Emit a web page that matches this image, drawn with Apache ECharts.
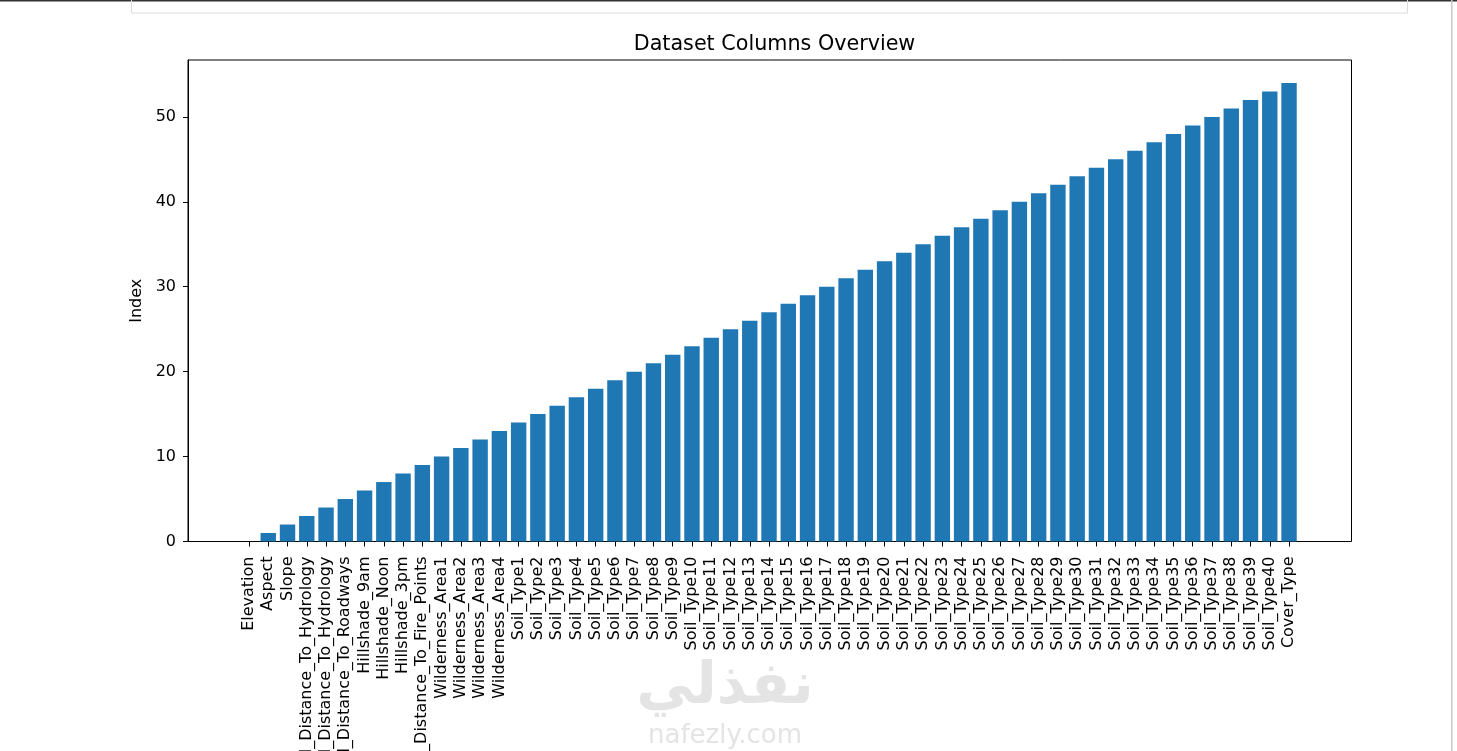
<!DOCTYPE html>
<html>
<head>
<meta charset="utf-8">
<script src="https://cdn.jsdelivr.net/npm/echarts@6/dist/echarts.min.js"></script>
<style>
html,body{margin:0;padding:0;background:#fff;}
#chart{width:1457px;height:751px;}
</style>
</head>
<body>
<div id="chart"></div>
<script>
const columns = [
  "Elevation","Aspect","Slope","Horizontal_Distance_To_Hydrology","Vertical_Distance_To_Hydrology",
  "Horizontal_Distance_To_Roadways","Hillshade_9am","Hillshade_Noon","Hillshade_3pm",
  "Horizontal_Distance_To_Fire_Points","Wilderness_Area1","Wilderness_Area2","Wilderness_Area3",
  "Wilderness_Area4","Soil_Type1","Soil_Type2","Soil_Type3","Soil_Type4","Soil_Type5","Soil_Type6",
  "Soil_Type7","Soil_Type8","Soil_Type9","Soil_Type10","Soil_Type11","Soil_Type12","Soil_Type13",
  "Soil_Type14","Soil_Type15","Soil_Type16","Soil_Type17","Soil_Type18","Soil_Type19","Soil_Type20",
  "Soil_Type21","Soil_Type22","Soil_Type23","Soil_Type24","Soil_Type25","Soil_Type26","Soil_Type27",
  "Soil_Type28","Soil_Type29","Soil_Type30","Soil_Type31","Soil_Type32","Soil_Type33","Soil_Type34",
  "Soil_Type35","Soil_Type36","Soil_Type37","Soil_Type38","Soil_Type39","Soil_Type40","Cover_Type"
];
const indexValues = [
  0,1,2,3,4,5,6,7,8,9,10,11,12,13,14,15,16,17,18,19,20,21,22,23,24,25,26,27,
  28,29,30,31,32,33,34,35,36,37,38,39,40,41,42,43,44,45,46,47,48,49,50,51,52,53,54
];
const yTicks = [0,10,20,30,40,50];
const titleText = "Dataset Columns Overview";
const yName = "Index";

const FONT = "DejaVu Sans";
const chart = echarts.init(document.getElementById('chart'), null, {renderer:'canvas'});
const frame = {left:188, top:60, width:1163.5, height:481.5};
const band = 19.26;
const inner = {left: 249 - band/2, top: frame.top, width: band*columns.length, height: frame.height};

chart.setOption({
  animation:false,
  backgroundColor:'#fff',
  title:{
    text:titleText, left:769.5, top:29, textAlign:'center',
    textStyle:{fontFamily:FONT, fontSize:20.7, fontWeight:'normal', color:'#000'}
  },
  graphic:[
    {type:'rect', shape:{x:0,y:0,width:1457,height:1.5}, style:{fill:'#333'}, z:100},
    {type:'rect', shape:{x:131.5,y:-2,width:1276,height:15}, style:{fill:'none', stroke:'#dcdcdc', lineWidth:1}, z:100},
    {type:'rect', shape:{x:1451,y:0,width:1.5,height:751}, style:{fill:'#c8c8c8'}, z:100},
    {type:'text', x:725, y:688, style:{text:'نفذلي', font:'bold 58px "DejaVu Sans"', fill:'#e4e4e4', textAlign:'center', textVerticalAlign:'middle'}, z:0},
    {type:'text', x:725, y:736, style:{text:'nafezly.com', font:'26px "DejaVu Sans"', fill:'#e4e4e4', textAlign:'center', textVerticalAlign:'middle'}, z:0}
  ],
  grid:[
    {left:frame.left, top:frame.top, width:frame.width, height:frame.height, show:true, borderColor:'#000', borderWidth:1, backgroundColor:'transparent', containLabel:false, outerBoundsMode:'none'},
    {left:inner.left, top:inner.top, width:inner.width, height:inner.height, containLabel:false, outerBoundsMode:'none'}
  ],
  xAxis:[
    {type:'value', gridIndex:0, show:false, min:0, max:1},
    {type:'category', gridIndex:1, data:columns, boundaryGap:true,
      axisLine:{show:true, lineStyle:{color:'#000', width:1}},
      axisTick:{show:true, alignWithLabel:true, length:5, lineStyle:{color:'#000', width:1}},
      axisLabel:{interval:0, rotate:90, margin:15, fontFamily:FONT, fontSize:16, color:'#000'}
    }
  ],
  yAxis:[
    {type:'value', gridIndex:0, min:0, max:56.7, interval:10,
      name:yName, nameLocation:'middle', nameGap:42,
      nameTextStyle:{fontFamily:FONT, fontSize:16, color:'#000'},
      axisLine:{show:true, lineStyle:{color:'#000', width:1}},
      axisTick:{show:true, length:5, customValues:yTicks, lineStyle:{color:'#000', width:1}},
      splitLine:{show:false},
      axisLabel:{margin:12, fontFamily:FONT, fontSize:16, color:'#000', customValues:yTicks}
    },
    {type:'value', gridIndex:1, min:0, max:56.7, show:false}
  ],
  series:[
    {type:'bar', xAxisIndex:1, yAxisIndex:1, data:indexValues, barWidth:'80%',
      itemStyle:{color:'#1f77b4'}}
  ]
});
</script>
</body>
</html>
